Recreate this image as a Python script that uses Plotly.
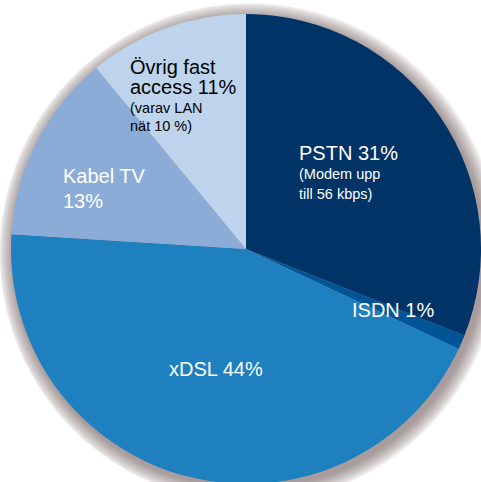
import plotly.graph_objects as go

# ---- data ----
labels = ["PSTN", "ISDN", "xDSL", "Kabel TV", "Övrig fast access"]
values = [31, 1, 44, 13, 11]
notes = {
    "PSTN": ["(Modem upp", "till 56 kbps)"],
    "Övrig fast access": ["(varav LAN", "nät 10 %)"],
}
colors = ["#003366", "#005596", "#1f80c0", "#8bacd6", "#bed4ec"]

# figure is slightly larger than the window; page overflow is hidden
W, H = 514, 514
CX, CY, R = 246, 249, 235          # pie centre / radius in px
SX, SY = 3, 4                      # shadow offset


def dom(cx, cy, r):
    clip = lambda v: min(1.0, max(0.0, v))
    return dict(x=[clip((cx - r) / W), clip((cx + r) / W)],
                y=[clip(1 - (cy + r) / H), clip(1 - (cy - r) / H)])


fig = go.Figure()

# soft drop shadow: stacked translucent discs behind the pie
for k in range(16):
    rr = R + 16 - k
    fig.add_trace(go.Pie(
        values=[1], labels=[""], sort=False, textinfo="none",
        hoverinfo="skip", showlegend=False,
        marker=dict(colors=["rgba(85,70,70,0.045)"], line=dict(width=0)),
        domain=dom(CX + SX, CY + SY, rr),
    ))

fig.add_trace(go.Pie(
    labels=labels,
    values=values,
    sort=False,
    direction="clockwise",
    rotation=0,
    textinfo="none",
    hoverinfo="label+percent",
    marker=dict(colors=colors, line=dict(width=0)),
    domain=dom(CX, CY, R),
    showlegend=False,
))

# label text, built from the data
main_lines = [
    [f"PSTN {values[0]}%"],
    [f"ISDN {values[1]}%"],
    [f"xDSL {values[2]}%"],
    ["Kabel TV", f"{values[3]}%"],
    ["Övrig fast", f"access {values[4]}%"],
]
text_colors = ["white", "white", "white", "white", "black"]

# layout (pixel anchors: left x, first baseline y, line step) per label
anchors = [
    (298, 160, 25),
    (351, 317, 25),
    (168, 376, 25),
    (62, 183, 25),
    (129, 74, 19.5),
]
note_steps = {"PSTN": (179, 20.5), "Övrig fast access": (113, 18.5)}

BIG, SMALL = 20, 14.5
FONT = "Liberation Sans, Arial, Helvetica, sans-serif"


def add_line(text, px, baseline, size, color):
    fig.add_annotation(
        text=text, xref="paper", yref="paper",
        x=px / W, y=1 - (baseline - 0.35 * size) / H,
        xanchor="left", yanchor="middle", showarrow=False,
        font=dict(family=FONT, size=size, color=color),
        borderpad=0,
    )


for i, lab in enumerate(labels):
    px, by, step = anchors[i]
    for j, t in enumerate(main_lines[i]):
        add_line(t, px, by + j * step, BIG, text_colors[i])
    if lab in notes:
        ny, nstep = note_steps[lab]
        for j, t in enumerate(notes[lab]):
            add_line(t, px, ny + j * nstep, SMALL, text_colors[i])

fig.update_layout(
    width=W, height=H,
    margin=dict(l=0, r=0, t=0, b=0),
    paper_bgcolor="white",
    plot_bgcolor="white",
    showlegend=False,
)

fig.write_html(
    "out.html",
    config={"displayModeBar": False},
    post_script=(
        "document.body.style.margin='0';"
        "document.body.style.overflow='hidden';"
        "document.documentElement.style.overflow='hidden';"
    ),
)
